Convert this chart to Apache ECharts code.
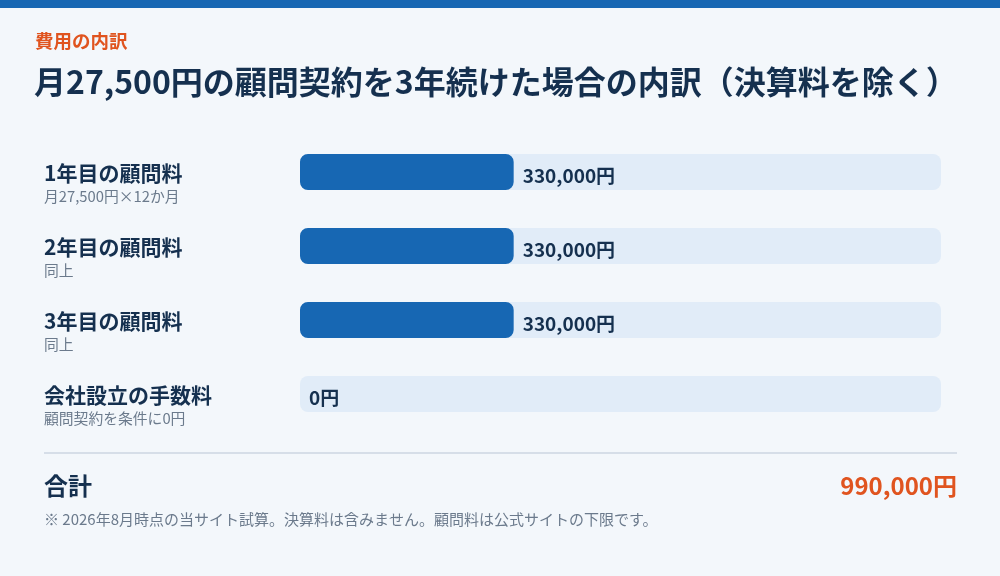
<!DOCTYPE html>
<html><head><meta charset="utf-8">
<script src="https://cdn.jsdelivr.net/npm/echarts@6/dist/echarts.min.js"></script>
<style>html,body{margin:0;padding:0;background:#f3f7fb;}#c{width:1000px;height:576px;}</style>
</head><body><div id="c"></div>
<script>
const categories = ['1年目の顧問料', '2年目の顧問料', '3年目の顧問料', '会社設立の手数料'];
const subLabels = ['月27,500円×12か月', '同上', '同上', '顧問契約を条件に0円'];
const values = [330000, 330000, 330000, 0];
const kicker = '費用の内訳';
const titleText = '月27,500円の顧問契約を3年続けた場合の内訳（決算料を除く）';
const totalLabel = '合計';
const footnote = '※ 2026年8月時点の当サイト試算。決算料は含みません。顧問料は公式サイトの下限です。';

const total = values.reduce((a, b) => a + b, 0);
const fmt = v => v.toLocaleString('ja-JP') + '円';
const FONT = '"Noto Sans CJK JP", "Noto Sans", sans-serif';
const NAVY = '#15304f';

const chart = echarts.init(document.getElementById('c'), null, {renderer: 'canvas'});
chart.setOption({
  backgroundColor: '#f3f7fb',
  animation: false,
  textStyle: {fontFamily: FONT},
  grid: {left: 300, right: 59, top: 135, bottom: 145, containLabel: false},
  xAxis: {type: 'value', min: 0, max: total, show: false},
  yAxis: {
    type: 'category', inverse: true, data: categories,
    axisLine: {show: false}, axisTick: {show: false}, splitLine: {show: false},
    axisLabel: {
      align: 'left', margin: 256, padding: [24, 0, 0, 0],
      formatter: (v, i) => '{a|' + v + '}\n{b|' + subLabels[i] + '}',
      rich: {
        a: {fontFamily: FONT, fontSize: 21, fontWeight: 'bold', color: NAVY, lineHeight: 24},
        b: {fontFamily: FONT, fontSize: 14.8, color: '#6b7a8c', lineHeight: 22}
      }
    }
  },
  series: [{
    type: 'bar', data: values, barWidth: 36,
    itemStyle: {color: '#1767b3', borderRadius: 8},
    showBackground: true,
    backgroundStyle: {color: '#e1ecf8', borderRadius: 8},
    label: {
      show: true, position: 'right', distance: 9, offset: [0, 4],
      formatter: p => fmt(p.value),
      fontFamily: FONT, fontSize: 19, fontWeight: 'bold', color: NAVY
    }
  }],
  graphic: [
    {type: 'rect', shape: {x: 0, y: 0, width: 1000, height: 8}, style: {fill: '#1767b3'}},
    {type: 'text', left: 35, top: 32, style: {text: kicker, fontFamily: FONT, fontSize: 18.5, fontWeight: 'bold', fill: '#e0541f'}},
    {type: 'text', left: 34, top: 66, style: {text: titleText, fontFamily: FONT, fontSize: 32, fontWeight: 'bold', fill: NAVY}},
    {type: 'rect', shape: {x: 44, y: 452, width: 913, height: 2}, style: {fill: '#d6dee8'}},
    {type: 'text', left: 44, top: 474, style: {text: totalLabel, fontFamily: FONT, fontSize: 24, fontWeight: 'bold', fill: NAVY}},
    {type: 'text', right: 43, top: 474, style: {text: fmt(total), fontFamily: FONT, fontSize: 24, fontWeight: 'bold', fill: '#e0541f'}},
    {type: 'text', left: 44, top: 512, style: {text: footnote, fontFamily: FONT, fontSize: 15, fill: '#6b7a8c'}}
  ]
});
</script></body></html>
